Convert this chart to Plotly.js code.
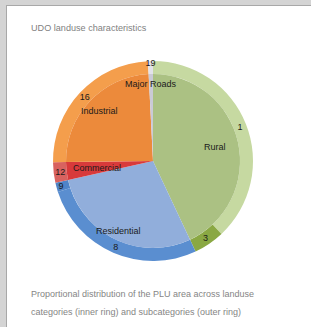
<!DOCTYPE html>
<html>
<head>
<meta charset="utf-8">
<script src="https://cdn.plot.ly/plotly-3.0.1.min.js"></script>
<style>
  html, body { margin: 0; padding: 0; width: 311px; height: 327px; overflow: hidden; background: #d4d4d4; }
  #frame { position: absolute; left: 6px; top: 5px; width: 305px; height: 322px;
           background: #ffffff; border-left: 1px solid #a8a8a8; border-top: 1px solid #a8a8a8; }
  #chart { width: 304px; height: 321px; }
</style>
</head>
<body>
<div id="frame"><div id="chart"></div></div>
<script>
// Inner ring: land-use categories (share of PLU area, %)
const categories = ['Rural', 'Residential', 'Commercial', 'Industrial', 'Major Roads'];
const categoryValues = [43, 28.5, 3.3, 24.4, 0.8];

// Outer ring: subcategories (codes as labels, share of PLU area, %)
const subcategories = ['1', '3', '8', '9', '12', '16', '19'];
const subcategoryValues = [38, 5, 27, 1.5, 3.3, 24.4, 0.8];

const titleText = 'UDO landuse characteristics';
const captionLines = [
  'Proportional distribution of the PLU area across landuse',
  'categories (inner ring) and subcategories (outer ring)'
];

// ---- styles ----
const categoryColors = ['#abc183', '#91aedb', '#d83a3b', '#ec8a3b', '#cacad6'];
const subcategoryColors = ['#c6d9a1', '#8aa843', '#5a8ed0', '#4f84c8', '#d8625f', '#f49e4c', '#e2e2ea'];
const categoryLabelRadius = [0.73, 0.90, 0.65, 0.84, 0.885]; // fraction of inner pie radius
const FONT = 'Liberation Sans, Arial, sans-serif';
const labelFont = { family: FONT, size: 9, color: '#1a1a1a' };

const W = 304, H = 321;
const CX = 146, CY = 155;          // pie centre in px
const R_OUT = 100, R_IN = 87;      // outer ring / inner pie radii in px

const dom = r => ({ x: [(CX - r) / W, (CX + r) / W], y: [(H - CY - r) / H, (H - CY + r) / H] });

const outer = {
  type: 'pie',
  labels: subcategories,
  values: subcategoryValues,
  sort: false,
  direction: 'clockwise',
  rotation: 0,
  hole: R_IN / R_OUT,
  marker: { colors: subcategoryColors, line: { width: 0 } },
  textinfo: 'label',
  textposition: 'inside',
  insidetextorientation: 'horizontal',
  textfont: labelFont,
  showlegend: false,
  hoverinfo: 'label+value',
  domain: dom(R_OUT)
};

const inner = {
  type: 'pie',
  labels: categories,
  values: categoryValues,
  sort: false,
  direction: 'clockwise',
  rotation: 0,
  marker: { colors: categoryColors, line: { width: 0 } },
  textinfo: 'none',
  showlegend: false,
  hoverinfo: 'label+value',
  domain: dom(R_IN)
};

// category labels placed at each slice's mid-angle (derived from the values)
const total = categoryValues.reduce((a, b) => a + b, 0);
let cum = 0;
const catAnnotations = categories.map((c, i) => {
  const mid = (cum + categoryValues[i] / 2) / total * 2 * Math.PI;
  cum += categoryValues[i];
  const r = categoryLabelRadius[i] * R_IN;
  return {
    text: c, xref: 'paper', yref: 'paper',
    x: (CX + r * Math.sin(mid)) / W,
    y: 1 - (CY - r * Math.cos(mid)) / H,
    xanchor: 'center', yanchor: 'middle',
    showarrow: false, font: labelFont
  };
});

const captionFont = { family: FONT, size: 9, color: '#858585' };

const layout = {
  width: W,
  height: H,
  margin: { l: 0, r: 0, t: 0, b: 0 },
  paper_bgcolor: '#ffffff',
  plot_bgcolor: '#ffffff',
  showlegend: false,
  uniformtext: { minsize: 9, mode: 'show' },
  title: {
    text: titleText,
    x: 0.079, xanchor: 'left', xref: 'paper',
    y: 0.931, yanchor: 'middle', yref: 'container',
    font: { family: FONT, size: 9.1, color: '#7f7f7f' }
  },
  annotations: catAnnotations.concat(captionLines.map((t, i) => ({
    text: t, xref: 'paper', yref: 'paper',
    x: 0.072, xanchor: 'left',
    y: [0.103, 0.047][i], yanchor: 'middle',
    showarrow: false, font: captionFont
  })))
};

Plotly.newPlot('chart', [outer, inner], layout, { displayModeBar: false, staticPlot: true });
</script>
</body>
</html>
